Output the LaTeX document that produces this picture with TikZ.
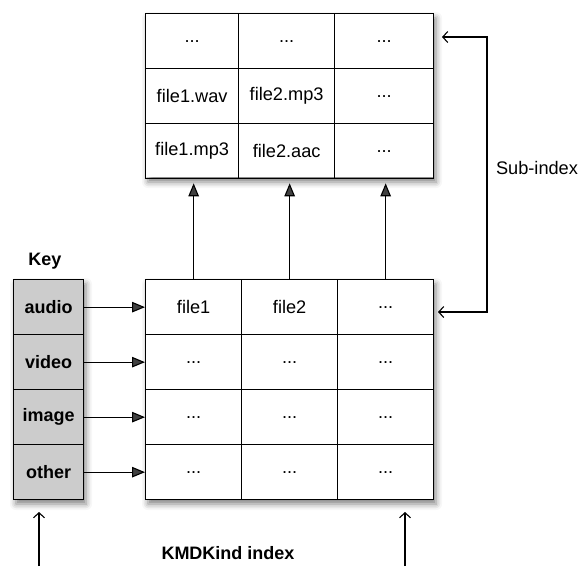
\documentclass[tikz,border=0pt]{standalone}
\usepackage{fontspec}
\setmainfont{Liberation Sans}
\usetikzlibrary{arrows.meta,shadows.blur}
\definecolor{keygray}{HTML}{CCCCCC}
\begin{document}
\begin{tikzpicture}[x=1pt,y=-1pt,
  every node/.style={font=\fontsize{18.2}{22}\selectfont},
  cell/.style={draw, line width=1.3pt, inner sep=0pt, anchor=north west,
    minimum height=55pt},
  keycell/.style={cell, fill=keygray, minimum width=70pt,
    font=\fontsize{18}{22}\selectfont\bfseries},
  tblshadow/.style={fill=white, blur shadow={shadow xshift=3pt,
    shadow yshift=-5pt, shadow blur radius=6pt, shadow opacity=50}},
  feed/.style={line width=1.1pt, -{Triangle[length=13pt,width=10.5pt]}},
  openarr/.style={line width=1.1pt, -{Straight Barb[length=5pt,width=11pt,line width=1.1pt]}},
  label/.style={font=\fontsize{18}{22}\selectfont\bfseries}
]
\useasboundingbox (0,0) rectangle (583,566);

% shadows under the three blocks
\path[tblshadow] (145,13) rectangle (433,177);
\path[tblshadow] (145,279) rectangle (433,499);
\path[tblshadow] (13,279) rectangle (83,499);

% sub-index table
\node[cell, minimum width=93pt] (t11) at (145,13) {...};
\node[cell, minimum width=96pt] (t12) at (238,13) {...};
\node[cell, minimum width=99pt] (t13) at (334,13) {...};
\node[cell, minimum width=93pt] (t21) at (145,68) {file1.wav};
\node[cell, minimum width=96pt] (t22) at (238,68) {file2.mp3};
\node[cell, minimum width=99pt] (t23) at (334,68) {...};
\node[cell, minimum width=93pt] (t31) at (145,123) {file1.mp3};
\node[cell, minimum width=96pt] (t32) at (238,123) {file2.aac};
\node[cell, minimum width=99pt] (t33) at (334,123) {...};

% kind index table
\node[cell, minimum width=96pt] (b11) at (145,279) {file1};
\node[cell, minimum width=96pt] (b12) at (241,279) {file2};
\node[cell, minimum width=96pt] (b13) at (337,279) {...};
\foreach \r/\y in {2/334,3/389,4/444}{
  \node[cell, minimum width=96pt] (b\r1) at (145,\y) {...};
  \node[cell, minimum width=96pt] (b\r2) at (241,\y) {...};
  \node[cell, minimum width=96pt] (b\r3) at (337,\y) {...};
}

% key column
\node[label] (keyhead) at (45,261) {Key};
\node[keycell] (k1) at (13,279) {audio};
\node[keycell] (k2) at (13,334) {video};
\node[keycell] (k3) at (13,389) {image};
\node[keycell] (k4) at (13,444) {other};

% key rows point into the table rows
\foreach \r in {1,2,3,4}{
  \draw[feed] (k\r.east) -- (b\r1.west);
}

% first-row entries point up to the sub-index
\foreach \c in {1,2,3}{
  \draw[feed, shorten >=4pt] (b1\c.north) -- (b1\c.north |- t3\c.south);
}

% sub-index bracket
\coordinate (subtop) at (487,37);
\coordinate (subbot) at (487,312);
\coordinate (subtoptip) at (442,37);
\coordinate (subbottip) at (438,312);
\draw[openarr] (subtop) -- (subbot) -- (subbottip);
\draw[openarr] (subbot) -- (subtop) -- (subtoptip);
\node (subidx) at (537,168) {Sub-index};

% incoming pointers at the bottom
\coordinate (inA) at (39,566);
\coordinate (inAtip) at (39,512);
\coordinate (inB) at (405,566);
\coordinate (inBtip) at (405,512);
\draw[openarr] (inA) -- (inAtip);
\draw[openarr] (inB) -- (inBtip);
\node[label] (kmd) at (228,553) {KMDKind index};
\end{tikzpicture}
\end{document}
